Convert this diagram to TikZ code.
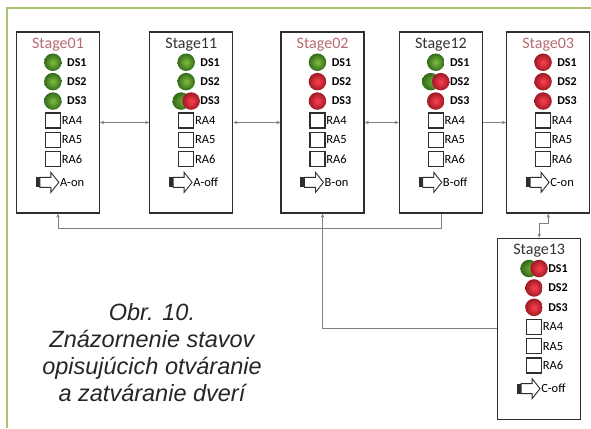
\documentclass[tikz,border=0pt]{standalone}
\usepackage{fontspec}
\setmainfont{Carlito}
\newfontfamily\capfont{Liberation Sans}
\usetikzlibrary{arrows.meta,positioning}
\definecolor{framegreen}{rgb}{0.66,0.76,0.45}
\definecolor{boxgray}{rgb}{0.18,0.18,0.18}
\definecolor{linkgray}{rgb}{0.50,0.50,0.50}
\definecolor{titlerose}{rgb}{0.72,0.42,0.45}
\definecolor{titlegray}{rgb}{0.20,0.20,0.20}
\definecolor{lampgreen}{rgb}{0.20,0.42,0.10}
\definecolor{lampgreenhi}{rgb}{0.50,0.75,0.25}
\definecolor{lampred}{rgb}{0.62,0.10,0.14}
\definecolor{lampredhi}{rgb}{1.00,0.25,0.32}
\definecolor{captext}{rgb}{0.15,0.15,0.15}
\tikzset{
  stagebox/.style={
    draw=boxgray, line width=1.3pt, fill=white,
    minimum width=83pt, minimum height=181pt, inner sep=0pt
  },
  stagetitle/.style={inner sep=0pt, font=\fontsize{16}{16}\selectfont},
  dslabel/.style={inner sep=0pt, font=\bfseries\fontsize{12}{12}\selectfont},
  ralabel/.style={inner sep=0pt, anchor=west, font=\fontsize{12.5}{12.5}\selectfont},
  relay/.style={draw=boxgray, line width=1.4pt, fill=white, minimum size=15pt, inner sep=0pt},
  lamp g/.style={circle, minimum size=17.5pt, inner sep=0pt,
    inner color=lampgreenhi, outer color=lampgreen},
  lamp r/.style={circle, minimum size=17.5pt, inner sep=0pt,
    inner color=lampredhi, outer color=lampred},
  lamp gr/.style={rectangle, minimum width=28pt, minimum height=18pt, inner sep=0pt,
    path picture={
      \shade[inner color=lampgreenhi, outer color=lampgreen]
        ([xshift=-5pt]path picture bounding box.center) circle (8.75pt);
      \shade[inner color=lampredhi, outer color=lampred]
        ([xshift=5pt]path picture bounding box.center) circle (8.75pt);
    }},
  lampset/.style={lamp #1},
  tail/.style={fill=boxgray},
  button/.style={draw=boxgray, line width=0.9pt, fill=white},
  caption/.style={align=center, text=captext, inner sep=0pt,
    font=\capfont\itshape\fontsize{23.5}{27}\selectfont},
  link/.style={draw=linkgray, line width=0.8pt},
  oneway/.style={link, -{Stealth[length=4pt,width=3.5pt]}},
  twoway/.style={link, {Stealth[length=4pt,width=3.5pt]}-{Stealth[length=4pt,width=3.5pt]}}
}

\begin{document}
\begin{tikzpicture}
    \useasboundingbox (0,0) rectangle (591pt,-428pt);

    % Open frame, top and left only.
    \draw[framegreen, line width=2pt] (7pt,-428pt) -- (7pt,-8.5pt) -- (591pt,-8.5pt);

    % The stages, left to right, and the last one below.
    \node[stagebox] (s01) at (58pt,-122.5pt) {};
    \node[stagebox, right=49pt of s01] (s11) {};
    \node[stagebox, right=47pt of s11] (s02) {};
    \node[stagebox, right=34pt of s02] (s12) {};
    \node[stagebox, right=23pt of s12] (s03) {};
    \node[stagebox, below=24pt of s03, xshift=-9pt] (s13) {};

    % Box contents: title, door sensors, relays, button.
    \foreach \s/\t/\tc/\da/\db/\dc/\btn in {
        s01/Stage01/titlerose/g/g/g/A-on,
        s11/Stage11/titlegray/g/g/gr/A-off,
        s02/Stage02/titlerose/g/r/r/B-on,
        s12/Stage12/titlegray/g/gr/r/B-off,
        s03/Stage03/titlerose/r/r/r/C-on,
        s13/Stage13/titlegray/gr/r/r/C-off} {
      \node[stagetitle, text=\tc] (\s-title) at ([yshift=-13pt]\s.north) {\t};
      \foreach \st [count=\i] in {\da,\db,\dc} {
        \node[lampset/.expanded=\st] (\s-ds\i)
          at ([xshift=37pt,yshift={-(11.5+19.4*\i)*1pt}]\s.north west) {};
        \node[dslabel] (\s-dsl\i)
          at ([xshift=61pt,yshift={-(11.5+19.4*\i)*1pt}]\s.north west) {DS\i};
      }
      \foreach \i in {4,5,6} {
        \node[relay] (\s-ra\i)
          at ([xshift=37pt,yshift={-(11.5+19.4*\i)*1pt}]\s.north west) {};
        \node[ralabel] (\s-ral\i) at ([xshift=0.5pt]\s-ra\i.east) {RA\i};
      }
      \fill[tail] ([xshift=20pt,yshift=-146pt]\s.north west) rectangle ++(4pt,-10pt);
      \draw[button] ([xshift=24pt,yshift=-146pt]\s.north west)
        -- ++(11pt,0) -- ++(0,5pt) -- ++(8pt,-10pt) -- ++(-8pt,-10pt)
        -- ++(0,5pt) -- ++(-11pt,0) -- cycle;
      \node[ralabel] (\s-btn) at ([xshift=44pt,yshift=-151pt]\s.north west) {\btn};
    }

    % Transitions along the top row.
    \draw[twoway] (s01) -- (s11);
    \draw[twoway] (s11) -- (s02);
    \draw[twoway] (s02) -- (s12);
    \draw[oneway] (s12) -- (s03);

    % Down to the last stage, with a small jog.
    \coordinate (jog) at ([yshift=-10pt]s03.south);
    \draw[twoway] (s03.south) -- (jog) -| (s13.north);

    % Returns along the bottom.
    \coordinate (backA) at ([yshift=-15pt]s12.south);
    \draw[oneway] (s12.south) -- (backA) -| (s01.south);
    \draw[oneway] (s13.west) -| (s02.south);

    % Caption.
    \node[caption] (cap) at (152pt,-353pt)
      {Obr. 10.\\Znázornenie stavov\\opisujúcich otváranie\\a zatváranie dverí};
\end{tikzpicture}
\end{document}
